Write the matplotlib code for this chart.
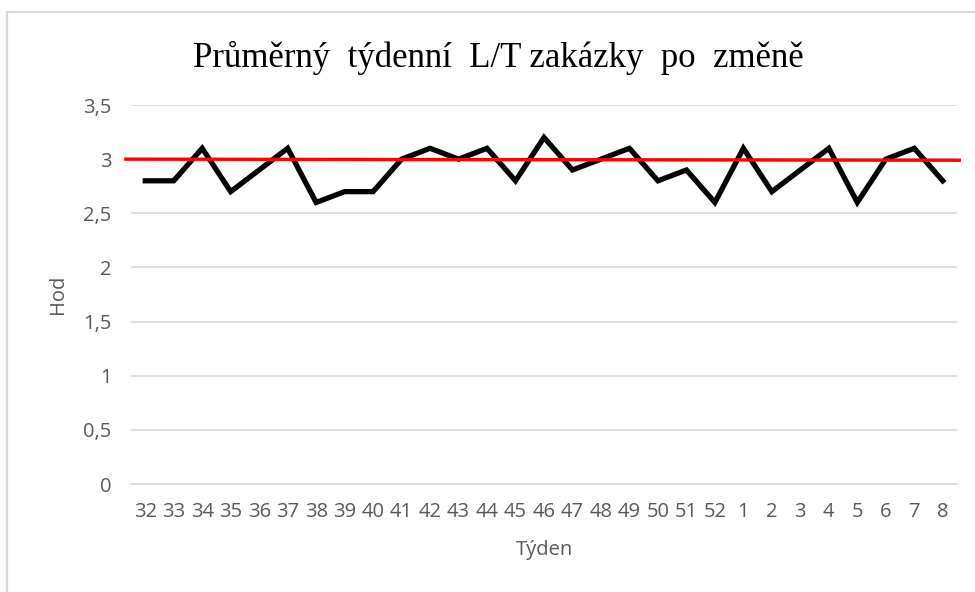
import matplotlib
matplotlib.use("Agg")
import matplotlib.pyplot as plt
from matplotlib.patches import Rectangle

weeks = ["32", "33", "34", "35", "36", "37", "38", "39", "40", "41", "42", "43", "44", "45",
         "46", "47", "48", "49", "50", "51", "52", "1", "2", "3", "4", "5", "6", "7", "8"]
lead_time = [2.8, 2.8, 3.1, 2.7, 2.9, 3.1, 2.6, 2.7, 2.7, 3.0, 3.1, 3.0, 3.1, 2.8,
             3.2, 2.9, 3.0, 3.1, 2.8, 2.9, 2.6, 3.1, 2.7, 2.9, 3.1, 2.6, 3.0, 3.1, 2.8]
target_start = 3.0
target_end = 2.99
yticks = [0, 0.5, 1, 1.5, 2, 2.5, 3, 3.5]
ytick_labels = ["0", "0,5", "1", "1,5", "2", "2,5", "3", "3,5"]

fig = plt.figure(figsize=(9.75, 5.92), dpi=100)
fig.patch.set_facecolor("white")
# chart border
fig.add_artist(Rectangle((6.5 / 975, -0.05), 1.1, 1 - 11.5 / 592 + 0.05,
                         transform=fig.transFigure, fill=False,
                         edgecolor="#d9d9d9", linewidth=1.6))

ax = fig.add_axes([131 / 975, 1 - 484 / 592, 826 / 975, (484 - 105) / 592])
x = list(range(len(weeks)))
ax.set_xlim(-0.5, len(weeks) - 0.5)
ax.set_ylim(0, 3.5)
ax.set_yticks(yticks)
ax.set_yticklabels(ytick_labels)
ax.set_xticks(x)
ax.set_xticklabels(weeks)
ax.grid(axis="y", color="#d9d9d9", linewidth=1.2)
ax.set_axisbelow(True)
for s in ["top", "right", "left"]:
    ax.spines[s].set_visible(False)
ax.spines["bottom"].set_color("#d9d9d9")
ax.spines["bottom"].set_linewidth(1.2)
ax.tick_params(length=0, colors="#595959", labelsize=14.5)
ax.tick_params(axis="x", pad=13)
ax.tick_params(axis="y", pad=14)
for lab in ax.get_xticklabels() + ax.get_yticklabels():
    lab.set_fontfamily("Open Sans")
    lab.set_color("#595959")

ax.plot(x, lead_time, color="black", linewidth=3.8, solid_joinstyle="miter", zorder=3)
ax.plot([-0.68, len(weeks) - 0.42], [target_start, target_end], color="red",
        linewidth=2.4, clip_on=False, zorder=4)

ax.set_xlabel("Týden", fontfamily="Open Sans", fontsize=14.5, color="#595959", labelpad=13)
ax.set_ylabel("Hod", fontfamily="Open Sans", fontsize=14.5, color="#595959", labelpad=11)

fig.text(0.511, 1 - 58 / 592, "Průměrný  týdenní  L/T zakázky  po  změně",
         fontfamily="Liberation Serif", fontsize=25, ha="center", va="center", color="black")

fig.savefig("out.png", dpi=100, facecolor="white")
